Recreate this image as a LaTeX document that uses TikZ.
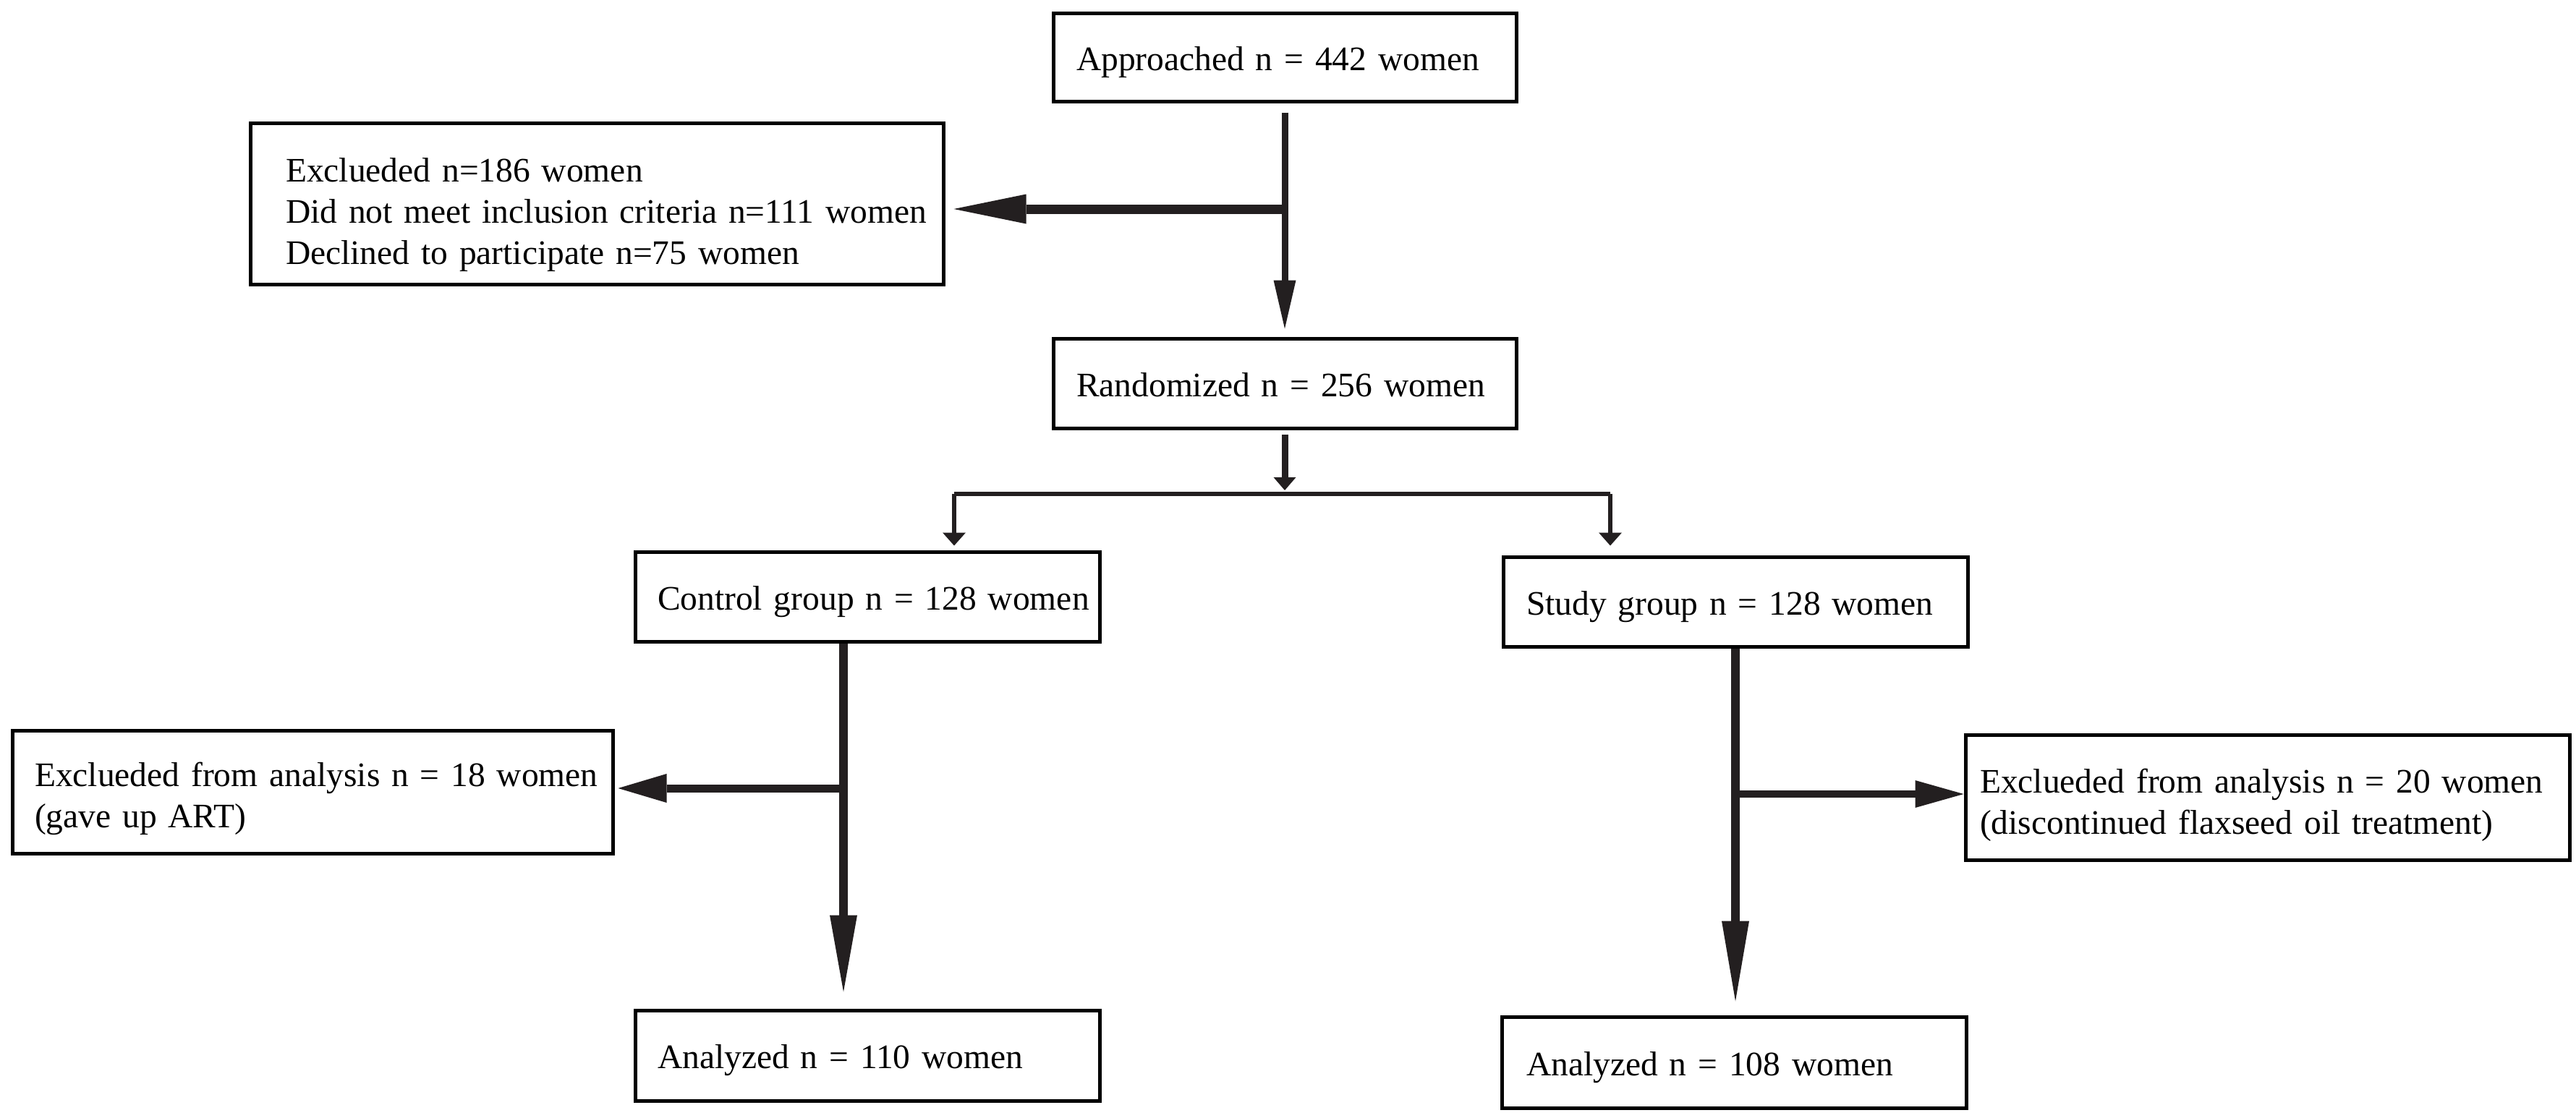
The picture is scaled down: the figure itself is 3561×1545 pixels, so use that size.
\documentclass[tikz,border=0pt]{standalone}
\usepackage{fontspec}
\setmainfont{Liberation Serif}
\usetikzlibrary{arrows.meta,calc}
\definecolor{lc}{RGB}{35,31,32}
\begin{document}
\begin{tikzpicture}[x=1pt,y=-1pt,
  flowbox/.style={draw=black, line width=5pt, inner ysep=0pt, align=left,
    font=\fontsize{47.5}{57}\selectfont},
  oneline/.style={text height=46pt, text depth=10pt},
  conn/.style={draw=lc, line width=#1},
  tip/.style n args={2}{-{Triangle[length=#1, width=#2, line width=0pt]}},
]
\fill[white] (0,0) rectangle (3561,1545);
\useasboundingbox (0,0) rectangle (3561,1545);

% boxes
\node[flowbox, oneline, minimum width=640pt, minimum height=122pt, inner xsep=32pt, text width=576pt]
  (appr) at (1776,79) {\mbox{Approached n = 442 women}};
\node[flowbox, minimum width=958pt, minimum height=223pt, inner xsep=49pt, text width=860pt]
  (exc1) at (825,281.5) {\mbox{\rule{0pt}{64pt}Exclueded n=186 women}\\\mbox{Did not meet inclusion criteria n=111 women}\\\mbox{Declined to participate n=75 women}};
\node[flowbox, oneline, minimum width=640pt, minimum height=124pt, inner xsep=32pt, text width=576pt]
  (rand) at (1776,530) {\mbox{Randomized n = 256 women}};
\node[flowbox, oneline, minimum width=642pt, minimum height=124pt, inner xsep=31pt, text width=580pt]
  (ctrl) at (1199,825) {\mbox{Control group n = 128 women}};
\node[flowbox, oneline, minimum width=642pt, minimum height=124pt, inner xsep=32pt, text width=578pt]
  (stdy) at (2399,832) {\mbox{Study group n = 128 women}};
\node[flowbox, minimum width=830pt, minimum height=170pt, inner xsep=31pt, text width=768pt]
  (exc2) at (432,1095) {\mbox{\rule{0pt}{52pt}Exclueded from analysis n = 18 women}\\\mbox{(gave up ART)}};
\node[flowbox, minimum width=835pt, minimum height=173pt, inner xsep=20pt, text width=795pt]
  (exc3) at (3134.5,1102.5) {\mbox{\rule{0pt}{56pt}Exclueded from analysis n = 20 women}\\\mbox{(discontinued flaxseed oil treatment)}};
\node[flowbox, oneline, minimum width=642pt, minimum height=125pt, inner xsep=31pt, text width=580pt]
  (an1) at (1199,1459.5) {\mbox{Analyzed n = 110 women}};
\node[flowbox, oneline, minimum width=642pt, minimum height=126pt, inner xsep=34pt, text width=574pt]
  (an2) at (2397,1469) {\mbox{Analyzed n = 108 women}};

% junction points
\coordinate (j1) at (1776,289);
\coordinate (sM) at (1776,683);
\coordinate (sL) at (1319,683);
\coordinate (sR) at (2226,683);
\coordinate (cx) at (1166,0);
\coordinate (j2) at (1166,1090);
\coordinate (j3) at (2399,1098);

% connectors
\draw[conn=9pt, tip={67pt}{31pt}, shorten <=13pt, shorten >=11pt] (appr.south) -- (rand.north);
\draw[conn=13pt, tip={100pt}{41pt}, shorten >=12pt] (j1) -- (j1 -| exc1.east);
\draw[conn=9pt, tip={18pt}{31pt}, shorten <=6pt, shorten >=5pt] (rand.south) -- (sM);
\draw[conn=6pt, line join=miter] (sL) -- (sR);
\draw[conn=6pt, tip={18pt}{32pt}, shorten >=6pt] (sL) -- (ctrl.north -| sL);
\draw[conn=6pt, tip={18pt}{32pt}, shorten >=13pt] (sR) -- (stdy.north -| sR);
\draw[conn=12pt, tip={106pt}{38pt}, shorten >=23pt] (ctrl.south -| cx) -- (an1.north -| cx);
\draw[conn=11pt, tip={67pt}{40pt}, shorten >=5pt] (j2) -- (j2 -| exc2.east);
\draw[conn=12pt, tip={111pt}{38pt}, shorten >=19pt] (stdy.south) -- (an2.north -| stdy.south);
\draw[conn=10pt, tip={67pt}{38pt}] (j3) -- (j3 -| exc3.west);
\end{tikzpicture}
\end{document}
